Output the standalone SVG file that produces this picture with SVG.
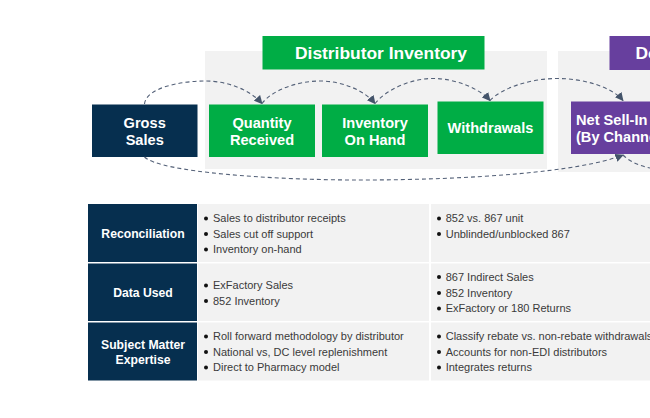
<svg xmlns="http://www.w3.org/2000/svg" width="650" height="418" viewBox="0 0 650 418">
<style>
text{font-family:"Liberation Sans",Arial,sans-serif}
.t{fill:#fff;font-weight:700;text-anchor:middle}
.b{font-size:14.6px}
.l{font-size:12.2px}
.h{font-size:17.4px}
.c{font-size:11px;fill:#3a3a3a}
.panel{fill:#f2f2f2}
.navy{fill:#062f4f}
.green{fill:#00ad45}
.purple{fill:#673f9e}
.dot{fill:#111}
.link{fill:none;stroke:#546178;stroke-width:1.1;stroke-dasharray:4 3}
</style>
<defs>
<marker id="arrow" viewBox="0 0 10 10" refX="9" refY="5" markerWidth="8.5" markerHeight="8.5" markerUnits="userSpaceOnUse" orient="auto"><path d="M0 0L10 5L0 10z" fill="#44546a"/></marker>
</defs>
<g id="panels">
<rect class="panel" x="205" y="51" width="342" height="118"/>
<rect class="panel" x="558" y="51" width="92" height="121"/>
</g>
<g id="node-distributor-inventory"><rect class="green" x="262.500" y="36" width="222" height="33.500"/><text class="t h" x="381" y="59">Distributor Inventory</text></g>
<g id="node-de"><rect class="purple" x="609.500" y="36" width="40.500" height="34"/><text x="635.500" y="59" font-size="17.400" font-weight="700" fill="#fff">De</text></g>
<g id="node-gross-sales"><rect class="navy" x="92" y="104.500" width="105.500" height="52.500"/><text class="t b" x="144.700" y="127.500">Gross</text><text class="t b" x="144.700" y="145">Sales</text></g>
<g id="node-quantity-received"><rect class="green" x="209" y="104.500" width="106" height="52.500"/><text class="t b" x="262" y="127.500">Quantity</text><text class="t b" x="262" y="145">Received</text></g>
<g id="node-inventory-on-hand"><rect class="green" x="322" y="104.500" width="106" height="52.500"/><text class="t b" x="375" y="127.500">Inventory</text><text class="t b" x="375" y="145">On Hand</text></g>
<g id="node-withdrawals"><rect class="green" x="437.500" y="101.500" width="106" height="52.500"/><text class="t b" x="490.500" y="133">Withdrawals</text></g>
<g id="node-net-sell-in"><rect class="purple" x="571" y="101.500" width="79" height="52.500"/><text class="b" x="576" y="124.500" fill="#fff" font-weight="700">Net Sell-In</text><text class="b" x="576" y="142" fill="#fff" font-weight="700">(By Channe</text></g>
<g id="connectors">
<path class="link" marker-end="url(#arrow)" d="M144.500 104C146 88 180 81 205 81C228 81 250 90 262 103.500"/>
<path class="link" marker-end="url(#arrow)" d="M262 103.500C272 90 298 81 320 81C343 81 365 91 375 103.500"/>
<path class="link" marker-end="url(#arrow)" d="M375 103.500C386 90 410 78.500 433 78.500C456 78.500 480 89 490 100.500"/>
<path class="link" marker-end="url(#arrow)" d="M490 100.500C502 88 530 78.500 557 78.500C584 78.500 612 87 623 100.500"/>
<path class="link" marker-end="url(#arrow)" d="M144.500 157C160 172 270 180 360 180C470 180 580 172 623 155"/>
<path class="link" d="M623 155C630 162 640 166 650 168"/>
</g>
<g id="row-reconciliation">
<rect class="navy" x="88" y="204" width="109" height="58"/><text class="t l" x="143" y="238">Reconciliation</text>
<rect class="panel" x="198" y="204" width="231" height="58"/><rect class="panel" x="431" y="204" width="219" height="58"/>
<circle class="dot" cx="206" cy="218.500" r="2"/><text class="c" x="213" y="222">Sales to distributor receipts</text>
<circle class="dot" cx="206" cy="234" r="2"/><text class="c" x="213" y="237.500">Sales cut off support</text>
<circle class="dot" cx="206" cy="249.500" r="2"/><text class="c" x="213" y="253">Inventory on-hand</text>
<circle class="dot" cx="439" cy="218.500" r="2"/><text class="c" x="445.700" y="222">852 vs. 867 unit</text>
<circle class="dot" cx="439" cy="234" r="2"/><text class="c" x="445.700" y="237.500">Unblinded/unblocked 867</text>
</g>
<g id="row-data-used">
<rect class="navy" x="88" y="263.500" width="109" height="57.500"/><text class="t l" x="143" y="297">Data Used</text>
<rect class="panel" x="198" y="263.500" width="231" height="57.500"/><rect class="panel" x="431" y="263.500" width="219" height="57.500"/>
<circle class="dot" cx="206" cy="285.500" r="2"/><text class="c" x="213" y="289">ExFactory Sales</text>
<circle class="dot" cx="206" cy="301" r="2"/><text class="c" x="213" y="304.500">852 Inventory</text>
<circle class="dot" cx="439" cy="277" r="2"/><text class="c" x="445.700" y="281">867 Indirect Sales</text>
<circle class="dot" cx="439" cy="293" r="2"/><text class="c" x="445.700" y="296.500">852 Inventory</text>
<circle class="dot" cx="439" cy="308.500" r="2"/><text class="c" x="445.700" y="312">ExFactory or 180 Returns</text>
</g>
<g id="row-subject-matter-expertise">
<rect class="navy" x="88" y="322.500" width="109" height="58"/><text class="t l" x="143" y="349">Subject Matter</text><text class="t l" x="143" y="364">Expertise</text>
<rect class="panel" x="198" y="322.500" width="231" height="58"/><rect class="panel" x="431" y="322.500" width="219" height="58"/>
<circle class="dot" cx="206" cy="336.500" r="2"/><text class="c" x="213" y="340">Roll forward methodology by distributor</text>
<circle class="dot" cx="206" cy="352" r="2"/><text class="c" x="213" y="355.500">National vs, DC level replenishment</text>
<circle class="dot" cx="206" cy="367.500" r="2"/><text class="c" x="213" y="371">Direct to Pharmacy model</text>
<circle class="dot" cx="439" cy="336.500" r="2"/><text class="c" x="445.700" y="340">Classify rebate vs. non-rebate withdrawals</text>
<circle class="dot" cx="439" cy="352" r="2"/><text class="c" x="445.700" y="355.500">Accounts for non-EDI distributors</text>
<circle class="dot" cx="439" cy="367.500" r="2"/><text class="c" x="445.700" y="371">Integrates returns</text>
</g>
</svg>
